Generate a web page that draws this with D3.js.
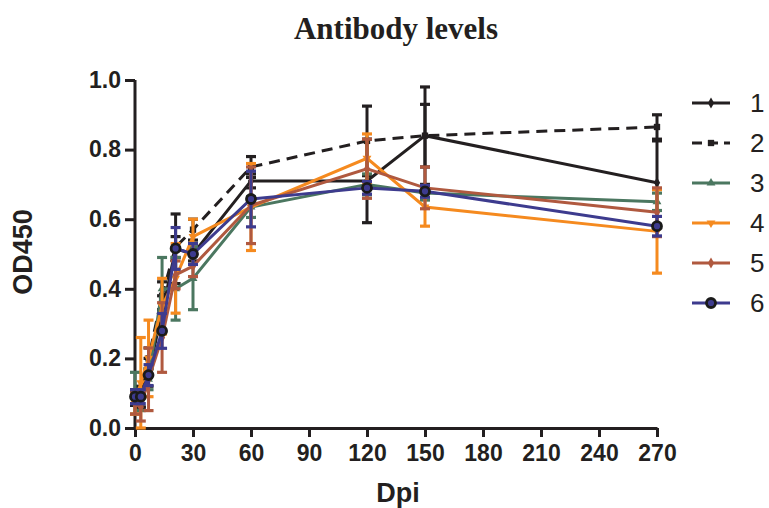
<!DOCTYPE html>
<html><head><meta charset="utf-8">
<script src="https://cdn.jsdelivr.net/npm/d3@7/dist/d3.min.js"></script>
<style>body{margin:0;background:#fff;}svg{display:block;}</style>
</head><body>
<svg id="c" width="769" height="508"></svg>
<script>
const days = [0, 3, 7, 14, 21, 30, 60, 120, 150, 270];
const xTicks = [0, 30, 60, 90, 120, 150, 180, 210, 240, 270];
const yTicks = [0.0, 0.2, 0.4, 0.6, 0.8, 1.0];
const seriesNames = ["1", "2", "3", "4", "5", "6"];
const s1 = [0.085, 0.08, 0.16, 0.33, 0.515, 0.50, 0.71, 0.71, 0.84, 0.705];
const s1err = [0.02, 0.02, 0.04, 0.05, 0.10, 0.02, 0.02, 0.12, 0.14, 0.12];
const s2 = [0.09, 0.09, 0.20, 0.38, 0.52, 0.57, 0.75, 0.825, 0.84, 0.865];
const s2err = [0.02, 0.03, 0.03, 0.04, 0.03, 0.03, 0.03, 0.10, 0.09, 0.035];
const s3 = [0.10, 0.08, 0.14, 0.40, 0.40, 0.43, 0.635, 0.70, 0.675, 0.65];
const s3err = [0.06, 0.03, 0.03, 0.09, 0.09, 0.09, 0.03, 0.03, 0.02, 0.025];
const s4 = [0.07, 0.13, 0.20, 0.35, 0.43, 0.55, 0.635, 0.775, 0.635, 0.565];
const s4err = [0.03, 0.13, 0.11, 0.08, 0.10, 0.05, 0.125, 0.07, 0.055, 0.12];
const s5 = [0.07, 0.06, 0.14, 0.26, 0.44, 0.465, 0.64, 0.745, 0.69, 0.62];
const s5err = [0.03, 0.04, 0.09, 0.10, 0.04, 0.03, 0.11, 0.085, 0.06, 0.07];
const s6 = [0.09, 0.09, 0.152, 0.279, 0.516, 0.50, 0.658, 0.69, 0.68, 0.58];
const s6err = [0.02, 0.02, 0.03, 0.05, 0.06, 0.03, 0.08, 0.018, 0.017, 0.028];

const series = [
  {name: seriesNames[0], v: s1, e: s1err, color: "#231f20", dash: null, marker: "diamond"},
  {name: seriesNames[1], v: s2, e: s2err, color: "#231f20", dash: "11,7", marker: "square"},
  {name: seriesNames[2], v: s3, e: s3err, color: "#4b7760", dash: null, marker: "triangle"},
  {name: seriesNames[3], v: s4, e: s4err, color: "#f58a1f", dash: null, marker: "triangledown"},
  {name: seriesNames[4], v: s5, e: s5err, color: "#b0593f", dash: null, marker: "diamond"},
  {name: seriesNames[5], v: s6, e: s6err, color: "#3d3b8e", dash: null, marker: "circle"}
];

const svg = d3.select("#c");
const x = d3.scaleLinear().domain([0, 270]).range([135, 657]);
const y = d3.scaleLinear().domain([0, 1]).range([428, 80]);
const axisColor = "#231f20";

// title
svg.append("text").attr("x", 396).attr("y", 39).attr("text-anchor", "middle")
  .attr("font-family", "Liberation Serif, Times New Roman, serif").attr("font-weight", "bold")
  .attr("font-size", 31).attr("fill", axisColor).text("Antibody levels");

// axes
const gx = svg.append("g").attr("transform", "translate(0,428)")
  .call(d3.axisBottom(x).tickValues(xTicks).tickSize(9).tickSizeOuter(0).tickPadding(8).tickFormat(d3.format("d")));
const gy = svg.append("g").attr("transform", "translate(135,0)")
  .call(d3.axisLeft(y).tickValues(yTicks).tickSize(10).tickSizeOuter(0).tickPadding(4).tickFormat(d3.format(".1f")));
[gx, gy].forEach(g => {
  g.selectAll("path.domain").attr("stroke", axisColor).attr("stroke-width", 3);
  g.selectAll(".tick line").attr("stroke", axisColor).attr("stroke-width", 3);
  g.selectAll(".tick text").attr("fill", axisColor).attr("font-family", "Liberation Sans, Arial, sans-serif")
    .attr("font-weight", "bold").attr("font-size", 23);
});
gy.select("path.domain").attr("d", "M0,430V80");

svg.append("text").attr("x", 398).attr("y", 502).attr("text-anchor", "middle")
  .attr("font-family", "Liberation Sans, Arial, sans-serif").attr("font-weight", "bold")
  .attr("font-size", 27).attr("fill", axisColor).text("Dpi");
svg.append("text").attr("transform", "translate(32,252) rotate(-90)").attr("text-anchor", "middle")
  .attr("font-family", "Liberation Sans, Arial, sans-serif").attr("font-weight", "bold")
  .attr("font-size", 27).attr("fill", axisColor).text("OD450");

function drawMarker(g, type, cx, cy, color) {
  if (type === "circle") {
    g.append("circle").attr("cx", cx).attr("cy", cy).attr("r", 4.5)
      .attr("fill", color).attr("stroke", "#1a1a1a").attr("stroke-width", 2.8);
  } else {
    const sym = {diamond: d3.symbolDiamond, square: d3.symbolSquare, triangle: d3.symbolTriangle, triangledown: d3.symbolTriangle}[type];
    const rot = type === "triangledown" ? 180 : 0;
    const size = type === "square" ? 40 : 34;
    g.append("path").attr("d", d3.symbol().type(sym).size(size)())
      .attr("transform", `translate(${cx},${cy}) rotate(${rot})`).attr("fill", color);
  }
}

const line = d3.line().x((d, i) => x(days[i])).y(d => y(d));
series.forEach(s => {
  const g = svg.append("g");
  // error bars
  s.v.forEach((v, i) => {
    const cx = x(days[i]);
    const top = y(v + s.e[i]), bot = y(v - s.e[i]);
    g.append("line").attr("x1", cx).attr("x2", cx).attr("y1", top).attr("y2", bot)
      .attr("stroke", s.color).attr("stroke-width", 3);
    [top, bot].forEach(yy => g.append("line").attr("x1", cx - 5).attr("x2", cx + 5).attr("y1", yy).attr("y2", yy)
      .attr("stroke", s.color).attr("stroke-width", 3.2));
  });
  g.append("path").attr("d", line(s.v)).attr("fill", "none").attr("stroke", s.color)
    .attr("stroke-width", 3).attr("stroke-dasharray", s.dash);
  s.v.forEach((v, i) => drawMarker(g, s.marker, x(days[i]), y(v), s.color));
});

// legend
const lg = svg.append("g");
series.forEach((s, i) => {
  const yy = 103 + i * 40;
  lg.append("line").attr("x1", 692).attr("x2", 730).attr("y1", yy).attr("y2", yy)
    .attr("stroke", s.color).attr("stroke-width", 3).attr("stroke-dasharray", s.dash ? "10,6" : null);
  drawMarker(lg, s.marker, 711, yy, s.color);
  lg.append("text").attr("x", 750).attr("y", yy + 9).attr("font-family", "Liberation Sans, Arial, sans-serif")
    .attr("font-size", 26).attr("fill", axisColor).text(s.name);
});
</script>
</body></html>
